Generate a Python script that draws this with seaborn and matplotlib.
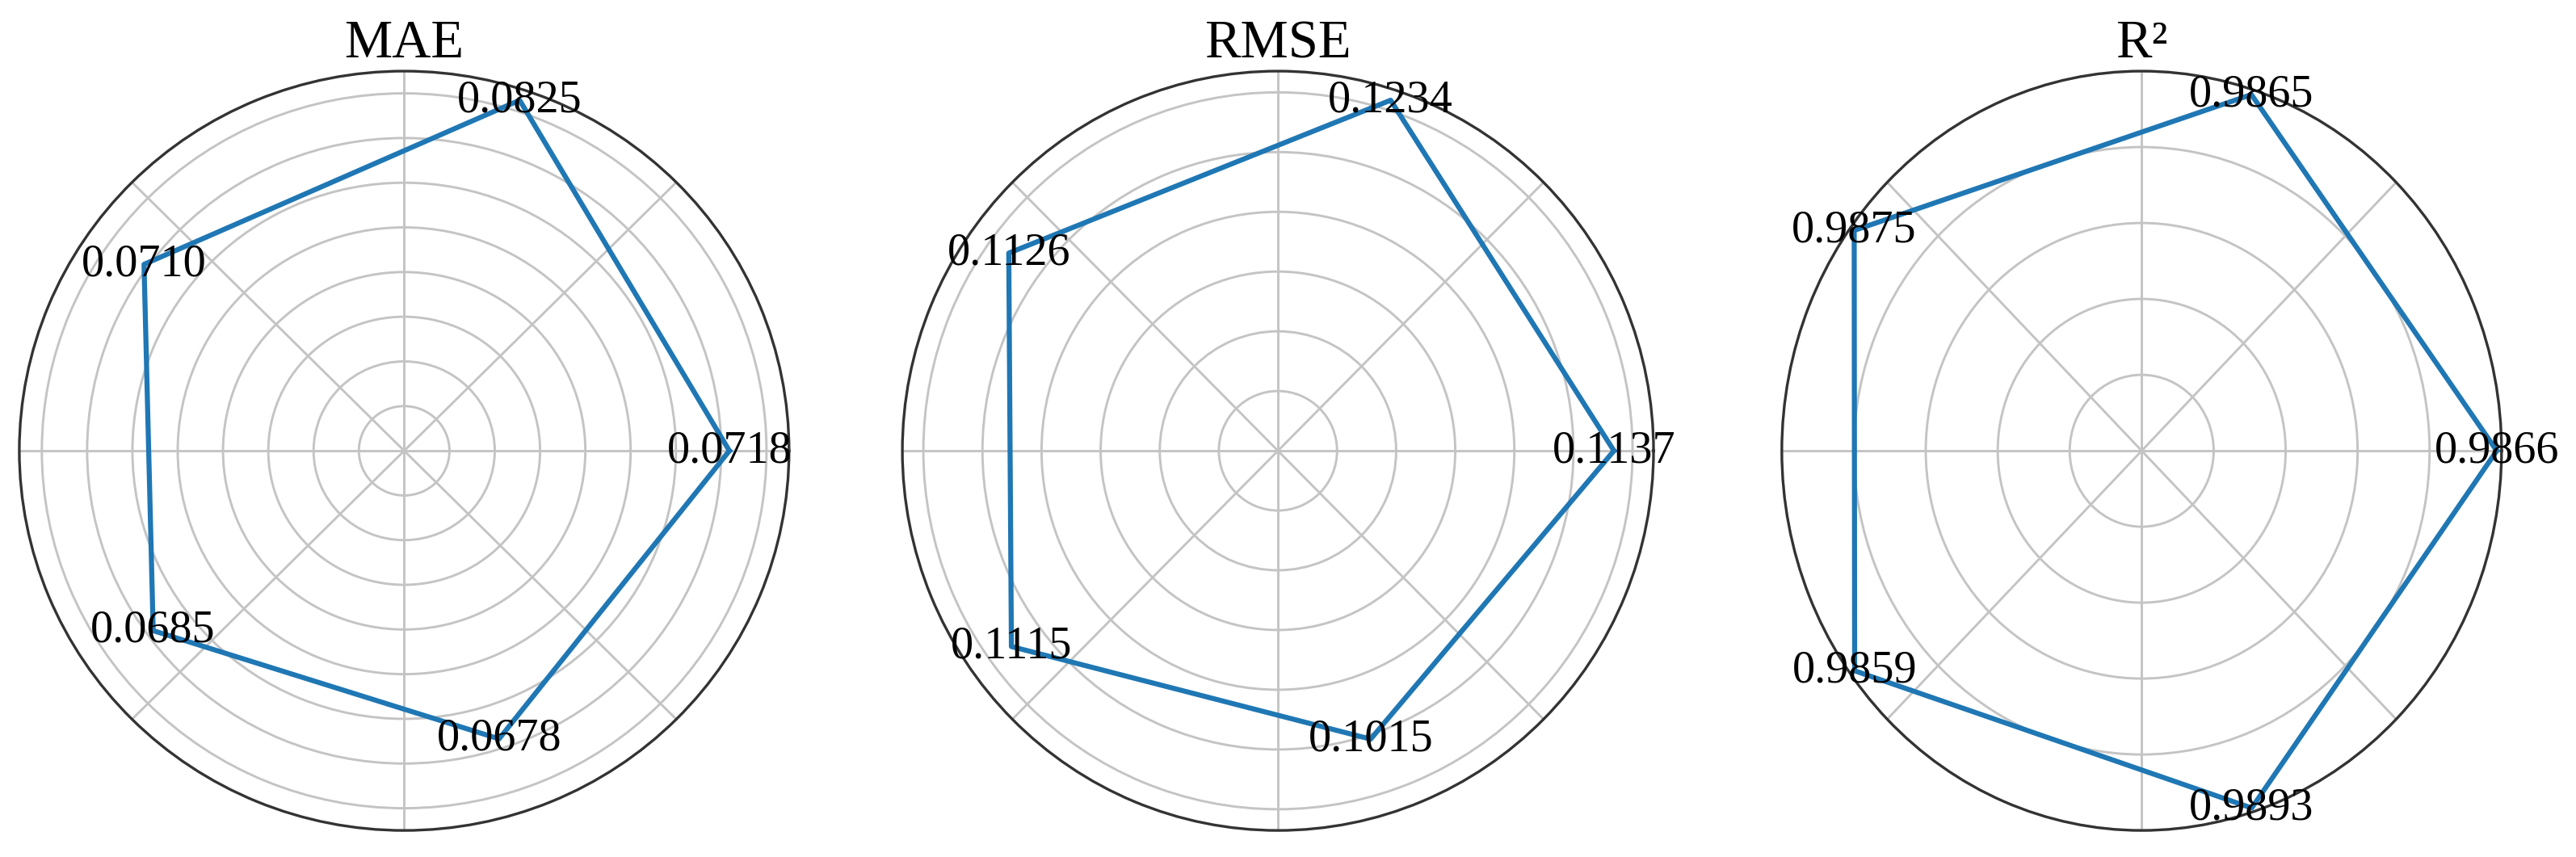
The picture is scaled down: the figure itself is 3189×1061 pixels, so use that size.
import numpy as np
import matplotlib
matplotlib.use("Agg")
import matplotlib.pyplot as plt
import seaborn as sns

# metric values for the five models, one list per panel
metrics = ["MAE", "RMSE", "R\u00b2"]
mae_values = [0.0718, 0.0825, 0.0710, 0.0685, 0.0678]
rmse_values = [0.1137, 0.1234, 0.1126, 0.1115, 0.1015]
r2_values = [0.9866, 0.9865, 0.9875, 0.9859, 0.9893]

plt.rcParams["font.family"] = ["Liberation Serif", "DejaVu Serif"]

fig = plt.figure(figsize=(3189 / 300, 1061 / 300), dpi=300)

# panel boxes (left, bottom, width, height) in figure fractions
boxes = [
    [0.0075, 0.031, 0.2988, 0.886],
    [0.3503, 0.031, 0.2916, 0.886],
    [0.6917, 0.031, 0.2794, 0.886],
]

all_values = [mae_values, rmse_values, r2_values]

for name, values, box in zip(metrics, all_values, boxes):
    ax = fig.add_axes(box, projection="polar")
    ax.set_aspect("auto")

    n = len(values)
    angles = np.linspace(0, 2 * np.pi, n, endpoint=False)
    theta = np.append(angles, angles[0])
    r = np.append(values, values[0])

    sns.lineplot(x=theta, y=r, ax=ax, sort=False, estimator=None,
                 color="#1f77b4", linewidth=1.5)

    rmax = min(1.0, max(values) * 1.03)
    ax.set_ylim(0, rmax)

    ax.set_xticks(np.deg2rad(np.arange(0, 360, 45)))
    ax.set_xticklabels([])
    ax.set_yticklabels([])
    ax.set_xlabel("")
    ax.set_ylabel("")
    ax.grid(True, color="#c4c4c4", linewidth=0.7)
    ax.spines["polar"].set_linewidth(0.8)
    ax.spines["polar"].set_color("#333333")

    for a, v in zip(angles, values):
        ax.text(a, v, f"{v:.4f}", ha="center", va="center", fontsize=13.5)

    ax.set_title(name, fontsize=16, pad=4)

plt.savefig("out.png", dpi=300)
plt.close()
